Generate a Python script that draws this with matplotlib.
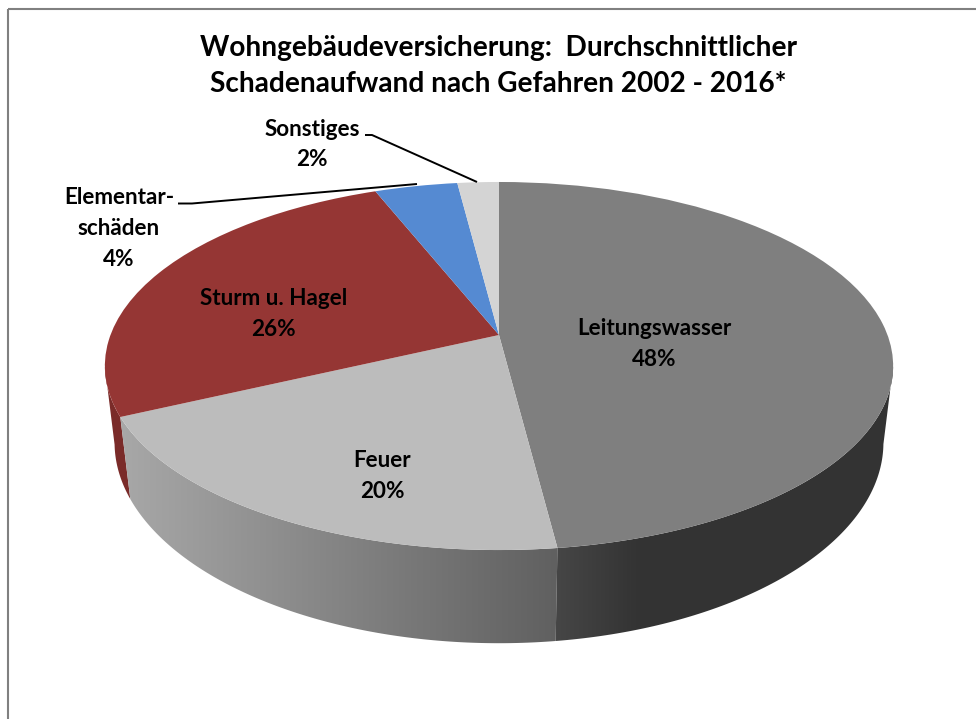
import numpy as np
import matplotlib
matplotlib.use("Agg")
import matplotlib.pyplot as plt
from matplotlib.patches import Polygon, Rectangle
from matplotlib.transforms import Transform

# data
categories = ["Leitungswasser", "Feuer", "Sturm u. Hagel", "Elementar-\nschäden", "Sonstiges"]
shares = [48, 20, 26, 4, 2]
title_text = "Wohngebäudeversicherung:  Durchschnittlicher\nSchadenaufwand nach Gefahren 2002 - 2016*"

# style
top_colors = ["#7f7f7f", "#bcbcbc", "#953634", "#558ad2", "#d4d4d4"]
wall_x = [[557, 640, 900], [120, 557], [100, 130]]
wall_c = [[(0x46,)*3, (0x33,)*3, (0x33,)*3],
          [(0xa8,)*3, (0x60,)*3],
          [(0x7a, 0x2b, 0x29), (0x7a, 0x2b, 0x29)]]
label_pos = [(654, 344), (382, 476), (273.5, 314), (119, 228.5), (312, 144.5)]

CX, CY = 499.0, 335.0
A, B, K = 178.8, 388.5, 0.1685
VY = 3524.0


def project(uv):
    uv = np.asarray(uv, float)
    w = 1 + K * uv[..., 1]
    return np.stack([CX + B * uv[..., 0] / w, CY - A * uv[..., 1] / w], axis=-1)


class Perspective(Transform):
    input_dims = output_dims = 2
    is_affine = False

    def transform_non_affine(self, values):
        return project(values)


def extrude(p):
    depth = 82 + (p[..., 1] - 416) * 11 / 132
    s = 1 - depth / (VY - p[..., 1])
    return np.stack([CX + s * (p[..., 0] - CX), VY + s * (p[..., 1] - VY)], axis=-1)


plt.rcParams["font.family"] = ["Lato", "DejaVu Sans"]
fig = plt.figure(figsize=(9.76, 7.19), dpi=100, facecolor="white")
ax = fig.add_axes([0, 0, 1, 1])
wedges, *_ = ax.pie(shares, colors=top_colors, startangle=90, counterclock=False,
                    labeldistance=None, radius=1, center=(0, 0))
persp = Perspective()
for w in wedges:
    w.set_transform(persp + ax.transData)
    w.set_zorder(5)
    w.set_edgecolor("none")

# side walls: horizontal gradient clipped to the wall outline of each visible slice
xs = np.arange(976) + 0.5
for i in [2, 1, 0]:
    w = wedges[i]
    phi = np.radians(np.linspace(w.theta1, w.theta2, 240))
    phi = phi[np.sin(phi) < -K]
    top = project(np.column_stack([np.cos(phi), np.sin(phi)]))
    bot = extrude(top)
    outline = Polygon(np.vstack([top, bot[::-1]]), closed=True, facecolor="none",
                      edgecolor="none", transform=ax.transData)
    ax.add_patch(outline)
    stops = np.array(wall_c[i], float)
    grad = np.stack([np.interp(xs, wall_x[i], stops[:, c]) for c in range(3)], axis=-1)[None, ...] / 255
    im = ax.imshow(grad, extent=(0, 976, 719, 0), aspect="auto", interpolation="nearest", zorder=3)
    im.set_clip_path(outline)

ax.set_aspect("auto")
ax.set_xlim(0, 976)
ax.set_ylim(719, 0)
ax.axis("off")

# frame
ax.add_patch(Rectangle((8, 9), 1100, 900, fill=False, edgecolor="#808080", linewidth=1.5, zorder=1))

# leader lines
ax.plot([365, 372, 477], [135, 135, 182], color="black", lw=1.4, zorder=6, solid_capstyle="butt")
ax.plot([178, 192, 417], [203.5, 203.5, 184], color="black", lw=1.4, zorder=6, solid_capstyle="butt")

# text
ax.text(498.5, 66, title_text, ha="center", va="center", fontsize=20.2, fontweight="bold",
        linespacing=1.43, color="black", zorder=7)
for name, share, (x, y) in zip(categories, shares, label_pos):
    ax.text(x, y, f"{name}\n{share}%", ha="center", va="center", multialignment="center",
            fontsize=16.2, fontweight="bold", linespacing=1.57, color="black", zorder=7)

fig.savefig("out.png", dpi=100)
